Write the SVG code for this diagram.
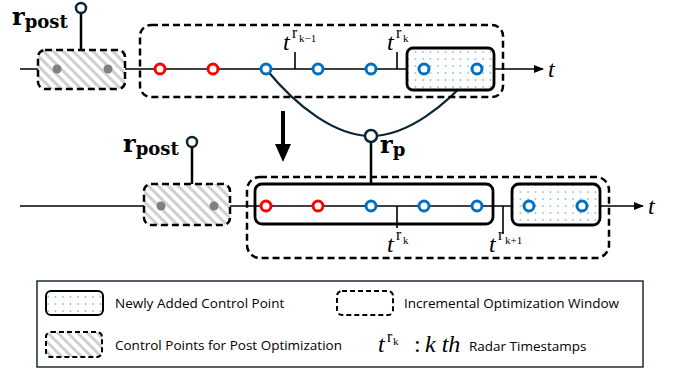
<svg xmlns="http://www.w3.org/2000/svg" width="684" height="374" viewBox="0 0 684 374">
<defs>
<pattern id="hatch" width="7" height="7" patternUnits="userSpaceOnUse" patternTransform="rotate(-45)">
<rect width="7" height="7" fill="#ffffff"/>
<line x1="1.5" y1="0" x2="1.5" y2="7" stroke="#cfcfcf" stroke-width="3"/>
</pattern>
<pattern id="dots" width="7.5" height="7" patternUnits="userSpaceOnUse">
<rect width="7.5" height="7" fill="#ffffff"/>
<circle cx="3" cy="3" r="0.7" fill="#3d8ac0"/>
</pattern>
<marker id="arr" viewBox="0 0 10 10" refX="9" refY="5" markerWidth="10" markerHeight="10" markerUnits="userSpaceOnUse" orient="auto">
<path d="M0,1 L10,5 L0,9 Z" fill="#000"/>
</marker>
</defs>
<style>
.axis{stroke:#000;stroke-width:1.6;fill:none}
.dash{fill:none;stroke:#000;stroke-width:2.5;stroke-dasharray:7,4}
.post{fill:url(#hatch);stroke:#000;stroke-width:2.5;stroke-dasharray:7,4}
.newbox{fill:url(#dots);stroke:#000;stroke-width:2.8}
.solid{fill:none;stroke:#000;stroke-width:2.8}
.red{fill:#fff;stroke:#ff0000;stroke-width:3}
.blue{fill:#fff;stroke:#0070c0;stroke-width:3}
.gray{fill:#808080}
.navy{fill:#fff;stroke:#0b2535;stroke-width:2.5}
.stem{stroke:#000;stroke-width:2.5}
.tick{stroke:#000;stroke-width:1.6}
.curve{fill:none;stroke:#0b2535;stroke-width:2.2}
.mathb{font-family:"DejaVu Serif","Liberation Serif",serif;font-weight:bold;fill:#000}
.ti{font-family:"Liberation Serif","DejaVu Serif",serif;font-style:italic;font-size:24px;fill:#000}
.sup{font-family:"Liberation Serif","DejaVu Serif",serif;font-size:16px;fill:#000}
.subs{font-family:"Liberation Serif","DejaVu Serif",serif;font-size:11px;fill:#000}
.leg{font-family:"Open Sans","Noto Sans",sans-serif;font-size:13.5px;fill:#000}
</style>

<g id="connectors">
<line class="axis" x1="20" y1="69" x2="543" y2="69" marker-end="url(#arr)"/>
<line class="axis" x1="20" y1="206" x2="643" y2="206" marker-end="url(#arr)"/>
<line class="stem" x1="81" y1="13" x2="81" y2="50"/>
<line class="stem" x1="192" y1="147" x2="192" y2="184"/>
<line class="stem" x1="371" y1="142" x2="371" y2="184"/>
<path class="curve" d="M266,69 C296,106 335,136 371,136 C407,136 446,106 477,69"/>
<path d="M281,111 L285,111 L285,144 L291,144 L283,162 L275,144 L281,144 Z" fill="#000"/>
<line class="tick" x1="295" y1="52" x2="295" y2="69"/>
<line class="tick" x1="397" y1="52" x2="397" y2="69"/>
<line class="tick" x1="397" y1="206" x2="397" y2="228"/>
<line class="tick" x1="503" y1="206" x2="503" y2="234"/>
</g>

<g id="top-post-window">
<rect class="post" x="38" y="50" width="87" height="39" rx="7"/>
<circle class="gray" cx="57" cy="69" r="4.5"/>
<circle class="gray" cx="108" cy="69" r="4.5"/>
</g>
<g id="top-rpost">
<circle class="navy" cx="81" cy="8" r="5"/>
<text class="mathb" x="12" y="25" font-size="24">r<tspan font-size="18" dy="3">post</tspan></text>
</g>
<g id="top-incremental-window">
<rect class="dash" x="140" y="25" width="363" height="72" rx="11"/>
</g>
<g id="top-new-points">
<rect class="newbox" x="407" y="48" width="87" height="42" rx="6"/>
</g>
<g id="top-points">
<circle class="red" cx="160" cy="69" r="5"/>
<circle class="red" cx="213" cy="69" r="5"/>
<circle class="blue" cx="266" cy="69" r="5"/>
<circle class="blue" cx="318" cy="69" r="5"/>
<circle class="blue" cx="371" cy="69" r="5"/>
<circle class="blue" cx="424" cy="69" r="5"/>
<circle class="blue" cx="477" cy="69" r="5"/>
</g>
<g id="top-labels">
<text class="ti" x="283" y="50">t</text>
<text class="sup" x="292" y="38">r</text>
<text class="subs" x="299" y="42">k−1</text>
<text class="ti" x="387" y="50">t</text>
<text class="sup" x="396" y="38">r</text>
<text class="subs" x="403" y="42">k</text>
<text class="ti" x="548" y="77">t</text>
</g>

<g id="rp">
<circle class="navy" cx="371" cy="136" r="6"/>
<text class="mathb" x="380" y="153" font-size="24">r<tspan font-size="18" dy="3">p</tspan></text>
</g>

<g id="bottom-post-window">
<rect class="post" x="144" y="184" width="86" height="41" rx="7"/>
<circle class="gray" cx="161" cy="206" r="4.5"/>
<circle class="gray" cx="214" cy="206" r="4.5"/>
</g>
<g id="bottom-rpost">
<circle class="navy" cx="192" cy="142" r="5"/>
<text class="mathb" x="123" y="152" font-size="24">r<tspan font-size="18" dy="3">post</tspan></text>
</g>
<g id="bottom-incremental-window">
<rect class="dash" x="247" y="177" width="362" height="81" rx="13"/>
</g>
<g id="bottom-solid-window">
<rect class="solid" x="255" y="184" width="238" height="40" rx="7"/>
</g>
<g id="bottom-new-points">
<rect class="newbox" x="512" y="184" width="88" height="41" rx="7"/>
</g>
<g id="bottom-points">
<circle class="red" cx="266" cy="206" r="5"/>
<circle class="red" cx="318" cy="206" r="5"/>
<circle class="blue" cx="371" cy="206" r="5"/>
<circle class="blue" cx="424" cy="206" r="5"/>
<circle class="blue" cx="477" cy="206" r="5"/>
<circle class="blue" cx="529" cy="206" r="5"/>
<circle class="blue" cx="582" cy="206" r="5"/>
</g>
<g id="bottom-labels">
<text class="ti" x="387" y="252">t</text>
<text class="sup" x="396" y="240">r</text>
<text class="subs" x="403" y="244">k</text>
<text class="ti" x="489" y="252">t</text>
<text class="sup" x="498" y="240">r</text>
<text class="subs" x="505" y="244">k+1</text>
<text class="ti" x="648" y="214">t</text>
</g>

<g id="legend">
<rect x="37" y="281" width="606" height="86" fill="#fff" stroke="#1b2c3c" stroke-width="1.5"/>
<rect class="newbox" x="46" y="291" width="57" height="24" rx="5" style="stroke-width:2"/>
<text class="leg" x="115" y="308">Newly Added Control Point</text>
<rect class="post" x="46" y="332" width="56" height="25" rx="5" style="stroke-width:2;stroke-dasharray:5,3"/>
<text class="leg" x="115" y="350">Control Points for Post Optimization</text>
<rect class="dash" x="337" y="291" width="56" height="24" rx="5" style="stroke-width:2;stroke-dasharray:5,3"/>
<text class="leg" x="404" y="308">Incremental Optimization Window</text>
<text class="ti" x="378" y="352" font-size="22">t</text>
<text class="sup" x="387" y="342" font-size="14">r</text>
<text class="subs" x="393" y="345" font-size="9.5">k</text>
<text class="ti" x="414" y="352" style="font-style:normal" font-size="18">:</text>
<text class="ti" x="425" y="352" font-size="20">k th</text>
<text class="leg" x="469" y="351">Radar Timestamps</text>
</g>
</svg>
